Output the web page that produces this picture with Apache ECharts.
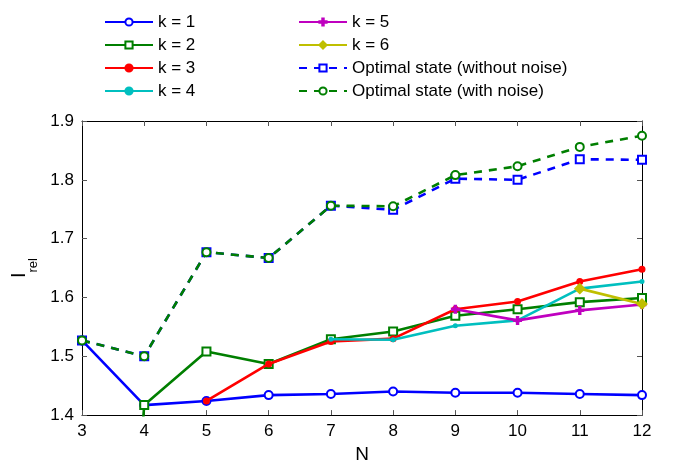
<!DOCTYPE html>
<html>
<head>
<meta charset="utf-8">
<script src="https://cdn.jsdelivr.net/npm/echarts@6/dist/echarts.min.js"></script>
<style>html,body{margin:0;padding:0;background:#fff}#c{width:690px;height:469px}</style>
</head>
<body>
<div id="c"></div>
<script>
const N = [3, 4, 5, 6, 7, 8, 9, 10, 11, 12];
const k1 = [1.527, 1.417, 1.424, 1.434, 1.436, 1.440, 1.438, 1.438, 1.436, 1.434];
const k2 = [0.0, 1.417, 1.508, 1.487, 1.529, 1.542, 1.569, 1.580, 1.592, 1.599];
const k3 = [null, null, 1.424, 1.487, 1.525, 1.530, 1.580, 1.593, 1.627, 1.648];
const k4 = [null, null, null, null, 1.529, 1.528, 1.552, 1.561, 1.615, 1.627];
const k5 = [null, null, null, null, null, null, 1.580, 1.561, 1.578, 1.588];
const k6 = [null, null, null, null, null, null, null, null, 1.615, 1.589];
const optNoNoise = [1.527, 1.500, 1.677, 1.667, 1.756, 1.749, 1.802, 1.800, 1.835, 1.834];
const optNoise = [1.527, 1.500, 1.677, 1.667, 1.756, 1.755, 1.808, 1.823, 1.856, 1.875];
const yTicks = [1.4, 1.5, 1.6, 1.7, 1.8, 1.9];

function pts(arr) {
  const out = [];
  arr.forEach((v, i) => { if (v !== null) out.push([N[i], v]); });
  return out;
}
const FONT = 'Liberation Sans, Arial, Helvetica, sans-serif';
const plusPath = 'path://M4,0H6V4H10V6H6V10H4V6H0V4H4Z';

function mk(name, data, color, symbol, size, dashed, z) {
  return {
    name: name, type: 'line', data: pts(data), clip: true, z: z,
    symbol: symbol, symbolSize: size, showSymbol: true,
    connectNulls: false,
    lineStyle: { color: color, width: 2.6, type: dashed ? [8, 7] : 'solid' },
    itemStyle: { color: color, borderColor: color, borderWidth: 2 },
    emphasis: { disabled: true },
    animation: false
  };
}

const legendCommon = {
  orient: 'vertical', top: 7, itemWidth: 48, itemHeight: 9, itemGap: 3,
  textStyle: { fontSize: 17, color: '#000', fontFamily: FONT, lineHeight: 20 }, selectedMode: false
};

const chart = echarts.init(document.getElementById('c'));
chart.setOption({
  animation: false,
  textStyle: { fontFamily: FONT },
  grid: { left: 82, right: 48, top: 121, bottom: 46, containLabel: false },
  legend: [
    Object.assign({ data: ['k = 1', 'k = 2', 'k = 3', 'k = 4'], left: 99 }, legendCommon),
    Object.assign({ data: ['k = 5', 'k = 6', 'Optimal state (without noise)', 'Optimal state (with noise)'], left: 293 }, legendCommon)
  ],
  xAxis: [
    {
      type: 'value', min: 3, max: 12, interval: 1,
      name: 'N', nameLocation: 'middle', nameGap: 28,
      nameTextStyle: { fontSize: 19, color: '#000', fontFamily: FONT },
      axisLine: { show: true, onZero: false, lineStyle: { color: '#000', width: 1 } },
      axisTick: { show: true, inside: true, length: 5, lineStyle: { color: '#555' } },
      axisLabel: { fontSize: 17, color: '#000', margin: 8, fontFamily: FONT },
      splitLine: { show: false }
    },
    {
      type: 'value', min: 3, max: 12, interval: 1, position: 'top',
      axisLine: { show: true, onZero: false, lineStyle: { color: '#000', width: 1 } },
      axisTick: { show: true, inside: true, length: 5, lineStyle: { color: '#555' } },
      axisLabel: { show: false }, splitLine: { show: false }
    }
  ],
  yAxis: [
    {
      type: 'value', min: yTicks[0], max: yTicks[yTicks.length - 1], interval: 0.1,
      name: '{a|I}{b|rel}', nameLocation: 'middle', nameGap: 50, nameRotate: 90,
      nameTextStyle: {
        color: '#000', fontFamily: FONT,
        rich: {
          a: { fontSize: 20, color: '#000', fontFamily: FONT, verticalAlign: 'bottom', lineHeight: 26 },
          b: { fontSize: 13, color: '#000', fontFamily: FONT, verticalAlign: 'bottom', lineHeight: 26, padding: [0, 0, -10, 0] }
        }
      },
      axisLine: { show: true, onZero: false, lineStyle: { color: '#000', width: 1 } },
      axisTick: { show: true, inside: true, length: 5, lineStyle: { color: '#555' } },
      axisLabel: { fontSize: 17, color: '#000', margin: 8, fontFamily: FONT, formatter: v => v.toFixed(1) },
      splitLine: { show: false }
    },
    {
      type: 'value', min: yTicks[0], max: yTicks[yTicks.length - 1], interval: 0.1, position: 'right',
      axisLine: { show: true, onZero: false, lineStyle: { color: '#000', width: 1 } },
      axisTick: { show: true, inside: true, length: 5, lineStyle: { color: '#555' } },
      axisLabel: { show: false }, splitLine: { show: false }
    }
  ],
  series: [
    mk('k = 1', k1, '#0000ff', 'emptyCircle', 8, false, 2),
    mk('k = 2', k2, '#007f00', 'emptyRect', 8, false, 3),
    mk('k = 3', k3, '#ff0000', 'circle', 5, false, 4),
    mk('k = 4', k4, '#00bfbf', 'circle', 3, false, 5),
    mk('k = 5', k5, '#bf00bf', plusPath, 7, false, 6),
    mk('k = 6', k6, '#bfbf00', 'diamond', 9, false, 7),
    mk('Optimal state (without noise)', optNoNoise, '#0000ff', 'emptyRect', 8, true, 8),
    mk('Optimal state (with noise)', optNoise, '#007f00', 'emptyCircle', 8, true, 9)
  ]
});
</script>
</body>
</html>
